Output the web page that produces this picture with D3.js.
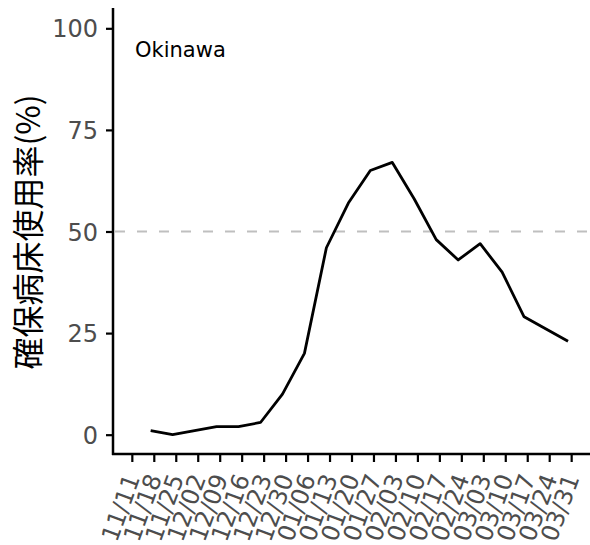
<!DOCTYPE html>
<html>
<head>
<meta charset="utf-8">
<script src="https://cdn.jsdelivr.net/npm/d3@7"></script>
<style>
  body { margin: 0; background: #fff; }
  svg { display: block; }
</style>
</head>
<body>
<div id="chart"></div>
<script>
// weekly report dates (points) and bed occupancy (%)
const dates = ['2020-11-17', '2020-11-24', '2020-12-01', '2020-12-08', '2020-12-15',
    '2020-12-22', '2020-12-29', '2021-01-05', '2021-01-12', '2021-01-19',
    '2021-01-26', '2021-02-02', '2021-02-09', '2021-02-16', '2021-02-23',
    '2021-03-02', '2021-03-09', '2021-03-16', '2021-03-23', '2021-03-30'];
const occupancy = [1, 0, 1, 2, 2, 3, 10, 20, 46, 57, 65, 67, 58, 48, 43, 47, 40, 29, 26, 23];
const xTickDates = ['2020-11-11', '2020-11-18', '2020-11-25', '2020-12-02', '2020-12-09',
    '2020-12-16', '2020-12-23', '2020-12-30', '2021-01-06', '2021-01-13', '2021-01-20',
    '2021-01-27', '2021-02-03', '2021-02-10', '2021-02-17', '2021-02-24', '2021-03-03',
    '2021-03-10', '2021-03-17', '2021-03-24', '2021-03-31'];
const yTicks = [0, 25, 50, 75, 100];
const refLine = 50;
const region = 'Okinawa';
const yTitle = '確保病床使用率(%)';

const width = 590, height = 545;
const parse = d3.utcParse('%Y-%m-%d');
const data = dates.map((d, i) => ({ date: parse(d), value: occupancy[i] }));
const tickFont = '"DejaVu Sans", Verdana, sans-serif';

const svg = d3.select('#chart').append('svg')
    .attr('width', width)
    .attr('height', height);

const x = d3.scaleUtc()
    .domain([parse('2020-11-05'), parse('2021-04-06')])
    .range([113, 590]);

const y = d3.scaleLinear()
    .domain([-5, 105])
    .range([455, 8]);

// reference line at 50%
svg.append('line')
    .attr('x1', 113).attr('x2', 590)
    .attr('y1', y(refLine)).attr('y2', y(refLine))
    .attr('stroke', '#bfbfbf')
    .attr('stroke-width', 2.2)
    .attr('stroke-dasharray', '10,12')
    .attr('stroke-dashoffset', -2);

// occupancy line
svg.append('path')
    .datum(data)
    .attr('fill', 'none')
    .attr('stroke', '#000')
    .attr('stroke-width', 2.8)
    .attr('stroke-linejoin', 'round')
    .attr('d', d3.line().x(d => x(d.date)).y(d => y(d.value)));

// y axis
const yAxis = svg.append('g')
    .attr('transform', 'translate(113,0)')
    .call(d3.axisLeft(y).tickValues(yTicks).tickSize(7).tickPadding(8));
yAxis.select('.domain').attr('d', `M0,${y(105)}V455`).attr('stroke-width', 2.5);
yAxis.selectAll('.tick line').attr('stroke-width', 2.2);
yAxis.selectAll('.tick text')
    .style('font-family', tickFont)
    .style('font-size', '24px')
    .attr('fill', '#4d4d4d')
    .attr('dy', '0.36em');

// x axis
const xAxis = svg.append('g')
    .attr('transform', 'translate(0,454)')
    .call(d3.axisBottom(x)
        .tickValues(xTickDates.map(parse))
        .tickFormat(d3.utcFormat('%m/%d'))
        .tickSize(8));
xAxis.select('.domain').attr('d', 'M112,0H590').attr('stroke-width', 2.5);
xAxis.selectAll('.tick line').attr('stroke-width', 2.2);
xAxis.selectAll('.tick text')
    .style('font-family', tickFont)
    .style('font-size', '24px')
    .attr('fill', '#4d4d4d')
    .attr('text-anchor', 'end')
    .attr('y', 0)
    .attr('dy', '0')
    .attr('transform', 'translate(8,24) rotate(-70)');

// region label
svg.append('text')
    .attr('x', 135)
    .attr('y', 57)
    .style('font-family', tickFont)
    .style('font-size', '21px')
    .attr('fill', '#000')
    .text(region);

// y axis title
svg.append('text')
    .attr('transform', 'translate(40,232) rotate(-90)')
    .attr('text-anchor', 'middle')
    .style('font-family', '"Noto Sans CJK JP", sans-serif')
    .style('font-size', '32px')
    .attr('fill', '#000')
    .text(yTitle);
</script>
</body>
</html>
